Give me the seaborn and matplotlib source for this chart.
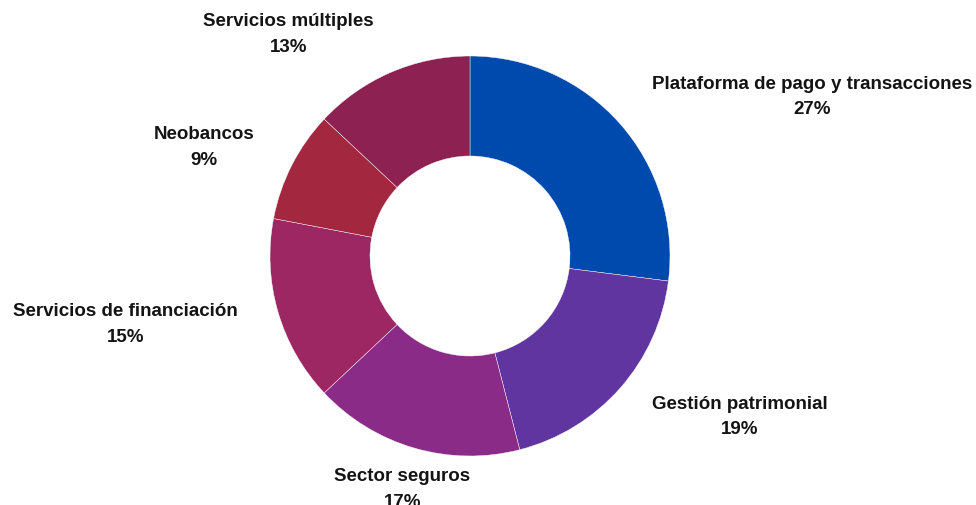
import numpy as np
import matplotlib
matplotlib.use("Agg")
import matplotlib.pyplot as plt
import seaborn as sns

categories = [
    "Plataforma de pago y transacciones",
    "Gestión patrimonial",
    "Sector seguros",
    "Servicios de financiación",
    "Neobancos",
    "Servicios múltiples",
]
shares = [27, 19, 17, 15, 9, 13]
colors = ["#004aad", "#6135a0", "#8a2b88", "#9c2763", "#a3283f", "#8c2152"]

sns.set_theme(style="white")
plt.rcParams["font.family"] = ["Liberation Sans", "DejaVu Sans"]

W, H, DPI = 976, 506, 100
fig = plt.figure(figsize=(W / DPI, H / DPI), dpi=DPI)
ax = fig.add_axes([0, 0, 1, 1])

# donut centre and radius in pixels, mapped so one data unit = outer radius
cx, cy, R = 470, 257, 200

palette = sns.color_palette(colors)
wedges, _ = ax.pie(
    shares,
    colors=palette,
    startangle=90,
    counterclock=False,
    radius=1.0,
    wedgeprops=dict(width=0.5, edgecolor="white", linewidth=0.3),
)
ax.set_xlim(-cx / R, (W - cx) / R)
ax.set_ylim(-(H - cy) / R, cy / R)
ax.set_aspect("auto")
ax.axis("off")

label_r = 1.21
for w, name, val in zip(wedges, categories, shares):
    ang = np.deg2rad((w.theta1 + w.theta2) / 2)
    x, y = label_r * np.cos(ang), label_r * np.sin(ang)
    c = np.cos(ang)
    if abs(c) < 0.3:
        ha = "center"
    elif c > 0:
        ha = "left"
    else:
        ha = "right"
    ax.text(x, y, f"{name}\n{val}%", ha=ha, va="center", multialignment="center",
            fontsize=13.5, fontweight="bold", color="#141414", linespacing=1.68)

fig.savefig("out.png", dpi=DPI, facecolor="white")
